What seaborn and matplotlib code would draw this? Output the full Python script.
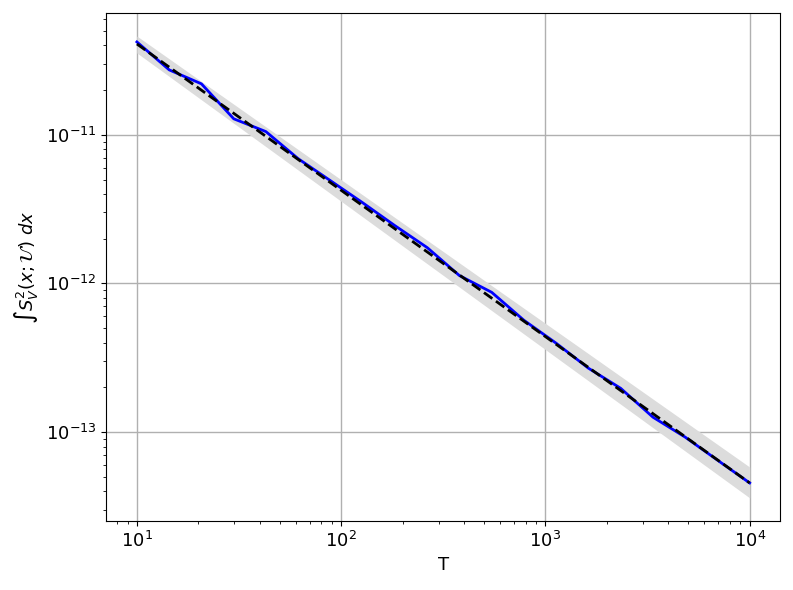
import numpy as np
import pandas as pd
import matplotlib
matplotlib.use("Agg")
import matplotlib.pyplot as plt
import seaborn as sns

# values
T = [10, 14.4, 20.7, 29.8, 42.8, 61.6, 88.6, 127, 183, 264,
     379, 546, 785, 1129, 1624, 2336, 3360, 4833, 6952, 10000]
integral = [4.21e-11, 2.73e-11, 2.20e-11, 1.28e-11, 1.05e-11, 6.90e-12, 4.91e-12,
            3.50e-12, 2.45e-12, 1.74e-12, 1.13e-12, 8.71e-13, 5.65e-13, 3.96e-13,
            2.69e-13, 1.97e-13, 1.26e-13, 9.25e-14, 6.48e-14, 4.55e-14]

# power-law fit and its band, at the two ends of the range
fit_T = [10, 10000]
fit_val = [4.08e-11, 4.55e-14]
band_low = [3.55e-11, 3.61e-14]
band_high = [4.61e-11, 5.82e-14]

df = pd.DataFrame({"T": T, "I": integral})
fit = pd.DataFrame({"T": fit_T, "I": fit_val})

plt.rcParams["font.size"] = 13

fig, ax = plt.subplots(figsize=(7.93, 5.9), dpi=100)
fig.subplots_adjust(left=0.134, right=0.984, top=0.978, bottom=0.117)

ax.fill_between(fit_T, band_low, band_high, color="#dcdcdc", lw=0, zorder=1)
sns.lineplot(data=df, x="T", y="I", color="blue", lw=2, ax=ax, zorder=2)
sns.lineplot(data=fit, x="T", y="I", color="black", lw=2, ls="--", ax=ax, zorder=3)

ax.set_xscale("log")
ax.set_yscale("log")
ax.grid(True, which="major", color="#b0b0b0", lw=1)
ax.set_axisbelow(True)
ax.set_xlabel("T")
ax.set_ylabel(r"$\int S_V^2(x;\mathcal{U})\ dx$")

plt.savefig("out.png", dpi=100)
